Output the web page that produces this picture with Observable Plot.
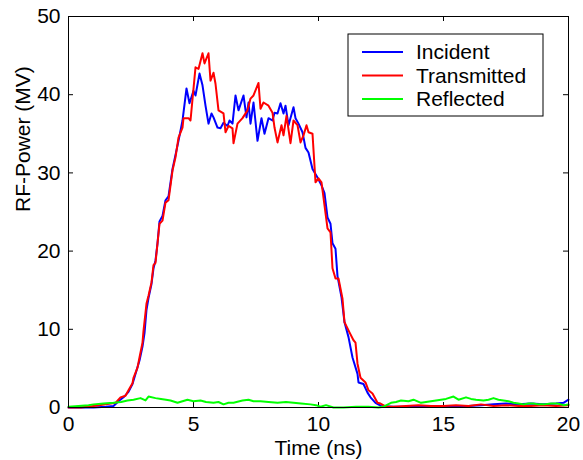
<!DOCTYPE html>
<html>
<head>
<meta charset="utf-8">
<script src="https://cdn.jsdelivr.net/npm/d3@7"></script>
<script src="https://cdn.jsdelivr.net/npm/@observablehq/plot@0.6"></script>
<style>
  html, body { margin: 0; padding: 0; background: #fff; }
  #chart { width: 583px; height: 460px; }
</style>
</head>
<body>
<div id="chart"></div>
<script>
// ---- Data ----
const xTicks = [0, 5, 10, 15, 20];
const yTicks = [0, 10, 20, 30, 40, 50];
const seriesNames = ["Incident", "Transmitted", "Reflected"];
const seriesColors = ["#0000ff", "#ff0000", "#00ff00"];

const incidentT = [0, 0.5, 1.0, 1.5, 1.8, 2.0, 2.2, 2.4, 2.56, 2.7, 2.84, 2.96, 3.04, 3.12, 3.2, 3.32, 3.4, 3.48, 3.56, 3.64, 3.76, 3.88, 4.0, 4.16, 4.28, 4.4, 4.56, 4.72, 4.84, 5.0, 5.08, 5.24, 5.36, 5.48, 5.6, 5.72, 5.8, 5.96, 6.08, 6.2, 6.36, 6.44, 6.56, 6.68, 6.8, 7.0, 7.12, 7.2, 7.28, 7.4, 7.56, 7.72, 7.84, 8.0, 8.16, 8.24, 8.36, 8.48, 8.6, 8.68, 8.8, 9.0, 9.08, 9.2, 9.36, 9.48, 9.6, 9.76, 9.96, 10.12, 10.24, 10.36, 10.48, 10.56, 10.68, 10.76, 10.92, 11.04, 11.2, 11.36, 11.56, 11.6, 11.8, 11.96, 12.08, 12.28, 12.5, 13, 13.5, 14, 14.5, 15, 15.5, 16, 16.5, 17, 17.5, 18, 18.5, 19, 19.5, 19.8, 20];
const incidentV = [0, 0, 0, 0.1, 0.2, 0.8, 1.3, 2.0, 3.0, 4.5, 6.0, 7.8, 9.5, 12.5, 14, 15.8, 17.8, 18.8, 21, 23.8, 24.5, 26.5, 27, 30.5, 32.3, 34.1, 36.7, 40.8, 38.9, 40.5, 39.9, 42.7, 41.2, 38.6, 36.3, 37.6, 37.1, 35.8, 35.7, 36.4, 36, 36.7, 36.3, 39.9, 38, 39.9, 37.1, 39, 36.3, 39, 34.1, 37, 35, 37, 36.7, 37.7, 37.6, 38.9, 37.6, 38.6, 36.1, 38.4, 37, 36.3, 35.2, 33.2, 32.6, 30.5, 29.4, 28.4, 27.4, 24.3, 23.5, 21, 20.3, 16.8, 14.1, 10.9, 9, 6.4, 4.3, 3.2, 3.0, 1.9, 1.3, 0.6, 0.2, 0.1, 0.1, 0.1, 0.2, 0.1, 0.2, 0.2, 0.3, 0.4, 0.5, 0.4, 0.5, 0.4, 0.5, 0.6, 1.0];

const transmittedT = [0, 0.5, 1.0, 1.5, 1.88, 2.08, 2.28, 2.4, 2.56, 2.6, 2.76, 2.84, 2.96, 3.0, 3.12, 3.2, 3.32, 3.4, 3.48, 3.56, 3.64, 3.76, 3.88, 4.0, 4.16, 4.28, 4.4, 4.56, 4.6, 4.8, 4.88, 5.08, 5.2, 5.36, 5.44, 5.6, 5.68, 5.8, 5.88, 6.0, 6.2, 6.28, 6.4, 6.56, 6.6, 6.76, 6.96, 7.16, 7.28, 7.4, 7.6, 7.68, 7.8, 8.0, 8.16, 8.24, 8.36, 8.52, 8.6, 8.72, 8.88, 9.0, 9.16, 9.28, 9.4, 9.52, 9.6, 9.76, 9.88, 10.0, 10.12, 10.36, 10.48, 10.56, 10.68, 10.8, 10.96, 11.04, 11.24, 11.4, 11.48, 11.56, 11.68, 11.88, 12.0, 12.16, 12.36, 12.48, 12.7, 13, 13.5, 14, 14.5, 15, 15.5, 16, 16.5, 17, 17.5, 18, 18.5, 19, 19.5, 20];
const transmittedV = [0, 0, 0.2, 0.4, 0.6, 1.3, 1.5, 2.2, 3.1, 3.8, 5.1, 6.4, 8.3, 9.8, 13.3, 14.3, 16, 18.2, 18.5, 21, 23.5, 23.9, 26.2, 26.5, 30.3, 32, 34.5, 35.8, 37, 37, 36.7, 43.5, 43.3, 45.3, 44, 45.3, 41.8, 42.8, 41.4, 38, 37.6, 35.2, 36, 35.7, 33.8, 36.3, 37, 38, 39.5, 39.9, 41.5, 38.2, 39, 38.6, 37.7, 35.8, 33.9, 36.1, 34.8, 37.3, 33.8, 36.7, 36.1, 33.9, 34.8, 36.1, 35.2, 35, 28.8, 29.3, 28.8, 22.9, 22.4, 17.8, 16.5, 16.5, 13.9, 10.9, 9.6, 8.6, 8.3, 5.6, 3.8, 3.2, 2.2, 1.8, 0.6, 0.5, 0.1, 0.1, 0.2, 0.3, 0.2, 0.2, 0.3, 0.2, 0.4, 0.2, 0.3, 0.2, 0.2, 0.3, 0.2, 0.3];

const reflectedT = [0, 0.4, 0.8, 1.0, 1.4, 1.8, 2.1, 2.36, 2.6, 2.88, 3.08, 3.2, 3.48, 3.7, 3.9, 4.08, 4.36, 4.56, 4.76, 5.0, 5.28, 5.5, 5.8, 6.0, 6.2, 6.4, 6.6, 6.96, 7.2, 7.4, 7.68, 8.0, 8.36, 8.7, 9.0, 9.3, 9.68, 9.9, 10.08, 10.3, 10.6, 11, 11.5, 12, 12.4, 12.6, 12.9, 13.1, 13.3, 13.6, 13.8, 14.1, 14.3, 14.5, 14.7, 14.9, 15.1, 15.4, 15.6, 15.9, 16.1, 16.3, 16.6, 16.8, 17.0, 17.2, 17.4, 17.6, 17.8, 18.0, 18.2, 18.4, 18.6, 18.8, 19.0, 19.3, 19.56, 19.8, 20];
const reflectedV = [0.1, 0.2, 0.3, 0.4, 0.5, 0.6, 0.7, 0.9, 1.0, 1.2, 0.9, 1.4, 1.2, 1.1, 1.0, 0.9, 0.6, 0.8, 1.0, 0.8, 0.9, 0.7, 0.6, 0.7, 0.4, 0.6, 0.6, 0.9, 1.0, 0.8, 0.8, 0.7, 0.6, 0.7, 0.6, 0.5, 0.4, 0.3, 0.1, 0.3, 0.0, 0.0, 0.1, 0.1, 0.0, 0.1, 0.6, 0.7, 0.9, 0.8, 1.0, 0.6, 0.7, 0.8, 0.9, 1.0, 1.1, 1.4, 1.0, 1.3, 1.1, 1.0, 0.9, 1.0, 1.2, 1.0, 0.9, 0.8, 0.6, 0.5, 0.4, 0.5, 0.5, 0.4, 0.4, 0.5, 0.5, 0.3, 0.4];

const toRows = (ts, vs) => ts.map((t, i) => ({t, v: vs[i]}));
const series = [
  toRows(incidentT, incidentV),
  toRows(transmittedT, transmittedV),
  toRows(reflectedT, reflectedV)
];

const FONT = "'Liberation Sans', Arial, Helvetica, sans-serif";
const W = 583, H = 460, ML = 68, MR = 15, MT = 16, MB = 53;
const innerW = W - ML - MR, innerH = H - MT - MB;
const TICK = 5;

const chart = Plot.plot({
  width: W,
  height: H,
  marginLeft: ML,
  marginRight: MR,
  marginTop: MT,
  marginBottom: MB,
  style: {fontFamily: FONT, fontSize: "21px", color: "#000", background: "#fff", overflow: "visible"},
  x: {domain: [0, 20], label: null},
  y: {domain: [0, 50], label: null},
  marks: [
    // tick labels
    Plot.axisX({anchor: "bottom", ticks: xTicks, tickSize: 0, tickPadding: 9, label: null, tickFormat: d => String(d)}),
    Plot.axisY({anchor: "left", ticks: yTicks, tickSize: 0, tickPadding: 8, label: null, tickFormat: d => String(d)}),
    // inward ticks on all four sides
    Plot.tickX(xTicks, {x: d => d, insetTop: innerH - TICK, stroke: "#000"}),
    Plot.tickX(xTicks, {x: d => d, insetBottom: innerH - TICK, stroke: "#000"}),
    Plot.tickY(yTicks, {y: d => d, insetRight: innerW - TICK, stroke: "#000"}),
    Plot.tickY(yTicks, {y: d => d, insetLeft: innerW - TICK, stroke: "#000"}),
    // series lines (last drawn on top)
    ...series.map((rows, i) => Plot.line(rows, {x: "t", y: "v", stroke: seriesColors[i], strokeWidth: 2})),
    Plot.frame({stroke: "#000", strokeWidth: 1}),
    // axis titles
    Plot.text(["Time (ns)"], {frameAnchor: "bottom", dy: 47, fontSize: 21, fill: "#000"}),
    Plot.text(["RF-Power (MV)"], {frameAnchor: "left", dx: -45, rotate: -90, fontSize: 21, fill: "#000"})
  ]
});

document.getElementById("chart").appendChild(chart);

// ---- Legend box inside the plot (top right), drawn in pixels ----
const xs = chart.scale("x"), ys = chart.scale("y");
const frameRight = xs.apply(20), frameTop = ys.apply(50);
const boxW = 195, boxH = 82;
const boxX = frameRight - 25 - boxW, boxY = frameTop + 18;
const svg = d3.select(chart);
const g = svg.append("g").attr("transform", `translate(${boxX},${boxY})`);
g.append("rect").attr("width", boxW).attr("height", boxH)
  .attr("fill", "#fff").attr("stroke", "#000").attr("stroke-width", 1);
seriesNames.forEach((name, i) => {
  const yy = 18 + i * 23.5;
  g.append("line").attr("x1", 14).attr("x2", 55).attr("y1", yy).attr("y2", yy)
    .attr("stroke", seriesColors[i]).attr("stroke-width", 2);
  g.append("text").attr("x", 68).attr("y", yy).attr("dy", "0.35em")
    .attr("text-anchor", "start")
    .attr("font-family", FONT).attr("font-size", 21).attr("fill", "#000").text(name);
});
</script>
</body>
</html>
